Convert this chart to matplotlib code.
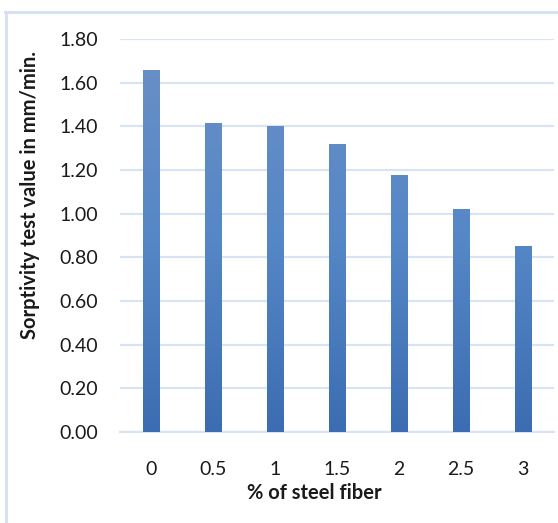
import numpy as np
import matplotlib
matplotlib.use("Agg")
import matplotlib.pyplot as plt
from matplotlib.patches import Rectangle
from matplotlib.colors import LinearSegmentedColormap

# Sorptivity vs. steel fibre content
fiber_pct = ["0", "0.5", "1", "1.5", "2", "2.5", "3"]
sorptivity = [1.66, 1.416, 1.402, 1.32, 1.178, 1.022, 0.852]
y_ticks = [0.0, 0.2, 0.4, 0.6, 0.8, 1.0, 1.2, 1.4, 1.6, 1.8]

plt.rcParams["font.family"] = ["Lato", "DejaVu Sans"]

fig = plt.figure(figsize=(5.58, 5.23), dpi=100)
fig.patch.set_facecolor("white")

# light chart-area border (left and top edges visible)
border = "#D6E2F4"
fig.add_artist(plt.Line2D([6 / 558, 6 / 558], [0, 1 - 12 / 523], color=border, lw=2.2,
                          transform=fig.transFigure))
fig.add_artist(plt.Line2D([5 / 558, 1], [1 - 12 / 523, 1 - 12 / 523], color=border, lw=2.2,
                          transform=fig.transFigure))

ax = fig.add_axes([120 / 558, 1 - 432 / 523, 434 / 558, (432 - 39) / 523])
x = np.arange(len(fiber_pct))
bars = ax.bar(x, sorptivity, width=0.26, color="none", zorder=3)

# vertical gradient fill inside each bar
cmap = LinearSegmentedColormap.from_list("bar", ["#3C6DB2", "#5687C6", "#6B90C6"])
grad = np.linspace(0, 1, 256).reshape(-1, 1)
for b in bars:
    x0, w, h = b.get_x(), b.get_width(), b.get_height()
    im = ax.imshow(grad, cmap=cmap, origin="lower", aspect="auto",
                   extent=[x0, x0 + w, 0, 1.8], zorder=3, interpolation="bilinear")
    clip = Rectangle((x0, 0), w, h, transform=ax.transData)
    im.set_clip_path(clip)

ax.set_xlim(-0.5, len(fiber_pct) - 0.5)
ax.set_ylim(0, 1.8)
ax.set_yticks(y_ticks)
ax.set_yticklabels([f"{v:.2f}" for v in y_ticks], fontsize=14, color="#1a1a1a")
ax.set_xticks(x)
ax.set_xticklabels(fiber_pct, fontsize=14, color="#1a1a1a")
ax.tick_params(axis="y", length=0, pad=16)
ax.tick_params(axis="x", length=0, pad=21)

ax.grid(axis="y", color="#D9E4F3", lw=1.6, zorder=0)
ax.set_axisbelow(True)
for s in ["top", "right", "left"]:
    ax.spines[s].set_visible(False)
ax.spines["bottom"].set_color("#D9E4F3")
ax.spines["bottom"].set_linewidth(1.6)

fig.text(30 / 558, 1 - 195 / 523, "Sorptivity test value in mm/min.", rotation=90,
         ha="center", va="center", fontsize=14.5, fontweight="bold", color="#1a1a1a")
fig.text(314 / 558, 1 - 493 / 523, "% of steel fiber", ha="center", va="center",
         fontsize=14.5, fontweight="bold", color="#1a1a1a")

fig.savefig("out.png", dpi=100, facecolor="white")
